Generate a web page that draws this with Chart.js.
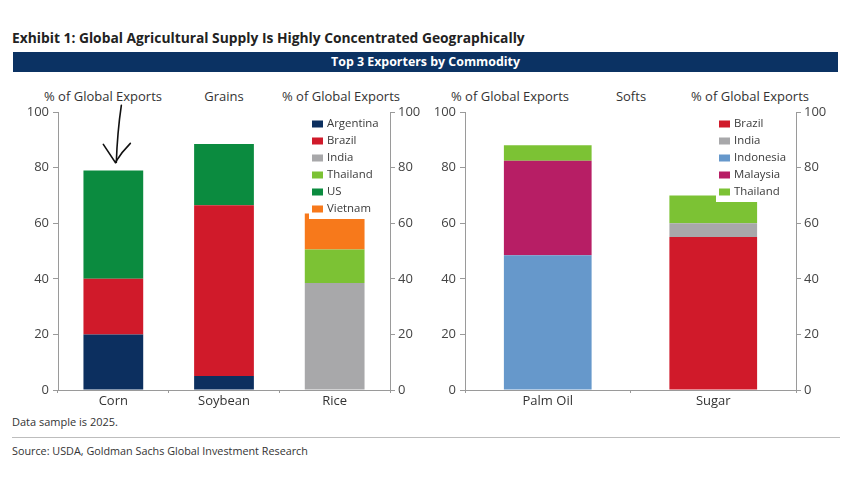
<!DOCTYPE html>
<html>
<head>
<meta charset="utf-8">
<script src="https://cdn.jsdelivr.net/npm/chart.js@4.4.1/dist/chart.umd.min.js"></script>
<style>
  body { margin: 0; background: #fff; font-family: "Open Sans", sans-serif; }
  #page { position: relative; width: 850px; height: 480px; overflow: hidden; background: #fff; }
  .abs { position: absolute; white-space: nowrap; }
  #title { left: 12px; top: 28px; font-size: 13.8px; font-weight: bold; color: #222; }
  #banner { left: 13px; top: 52px; width: 825px; height: 20px; background: #0b3263;
            color: #fff; font-size: 12.4px; font-weight: bold; text-align: center; line-height: 20px; }
  .axt { font-size: 13px; color: #333; top: 87px; transform: translateX(-50%); }
  #note { left: 12px; top: 414px; font-size: 11px; color: #333; }
  #rule { left: 12px; top: 437px; width: 828px; height: 1px; background: #bdbdbd; }
  #source { left: 12px; top: 443px; font-size: 10.8px; color: #333; }
</style>
</head>
<body>
<div id="page">
  <div id="title" class="abs">Exhibit 1: Global Agricultural Supply Is Highly Concentrated Geographically</div>
  <div id="banner" class="abs">Top 3 Exporters by Commodity</div>

  <div class="abs axt" style="left:103px">% of Global Exports</div>
  <div class="abs axt" style="left:224px">Grains</div>
  <div class="abs axt" style="left:341px">% of Global Exports</div>
  <div class="abs axt" style="left:510px">% of Global Exports</div>
  <div class="abs axt" style="left:631px">Softs</div>
  <div class="abs axt" style="left:750px">% of Global Exports</div>

  <div class="abs" style="left:0; top:100px; width:425px; height:312px"><canvas id="grains"></canvas></div>
  <div class="abs" style="left:425px; top:100px; width:425px; height:312px"><canvas id="softs"></canvas></div>

  <div id="note" class="abs">Data sample is 2025.</div>
  <div id="rule" class="abs"></div>
  <div id="source" class="abs">Source: USDA, Goldman Sachs Global Investment Research</div>
</div>

<script>
// ===== Data =====
const grainCategories = ['Corn', 'Soybean', 'Rice'];
const grainArgentina = [20, 5, null];
const grainBrazil = [20, 61.5, null];
const grainIndia = [null, null, 38.5];
const grainThailand = [null, null, 12];
const grainUS = [39, 22, null];
const grainVietnam = [null, null, 13];

const softCategories = ['Palm Oil', 'Sugar'];
const softBrazil = [null, 55];
const softIndia = [null, 5];
const softIndonesia = [48.5, null];
const softMalaysia = [34, null];
const softThailand = [5.5, 10];

const yTicks = [0, 20, 40, 60, 80, 100];

const COLORS = {
    Argentina: '#0c2f5f',
    Brazil: '#d01a2a',
    India: '#a8a8aa',
    Thailand: '#7cc234',
    US: '#0b8b3f',
    Vietnam: '#f7791b',
    Indonesia: '#6698cb',
    Malaysia: '#b71e65'
};

const AXIS_COLOR = '#9a9a9a';
const TEXT_COLOR = '#444';
const FONT = '"Open Sans", sans-serif';

// Leyenda dibujada dentro del área del gráfico, con fondo blanco
const insetLegend = {
    id: 'insetLegend',
    afterDatasetsDraw(chart, args, opts) {
        const ctx = chart.ctx;
        const sets = chart.data.datasets;
        ctx.save();
        ctx.fillStyle = '#fff';
        ctx.fillRect(opts.x - 3, opts.y - 9, opts.w, sets.length * opts.row + 2);
        ctx.font = '11.4px ' + FONT;
        ctx.textBaseline = 'middle';
        sets.forEach((ds, i) => {
            const cy = opts.y + i * opts.row;
            ctx.fillStyle = ds.backgroundColor;
            ctx.fillRect(opts.x, cy - 3.5, 11, 7);
            ctx.fillStyle = '#3a3a3a';
            ctx.fillText(ds.label, opts.x + 15, cy);
        });
        ctx.restore();
    }
};

// Flecha dibujada a mano sobre la barra de maíz
const handArrow = {
    id: 'handArrow',
    afterDraw(chart) {
        if (chart.canvas.id !== 'grains') return;
        const meta = chart.getDatasetMeta(4);
        const bar = meta.data[0];
        if (!bar) return;
        const cx = bar.x;
        const tip = bar.y - 8;
        const ctx = chart.ctx;
        ctx.save();
        ctx.strokeStyle = '#111';
        ctx.lineWidth = 1.6;
        ctx.lineCap = 'round';
        ctx.beginPath();
        ctx.moveTo(cx + 8, tip - 57);
        ctx.quadraticCurveTo(cx + 4, tip - 30, cx + 3, tip);
        ctx.stroke();
        ctx.beginPath();
        ctx.moveTo(cx - 10, tip - 18);
        ctx.quadraticCurveTo(cx - 2, tip - 6, cx + 2, tip);
        ctx.quadraticCurveTo(cx + 8, tip - 10, cx + 17, tip - 19);
        ctx.stroke();
        ctx.restore();
    }
};

function makeDataset(label, data) {
    return {
        label: label,
        data: data,
        backgroundColor: COLORS[label],
        borderWidth: 0,
        stack: 'top3'
    };
}

function yAxis(position, width, padding) {
    return {
        type: 'linear',
        position: position,
        stacked: position === 'left',
        min: 0,
        max: 100,
        afterBuildTicks(scale) {
            scale.ticks = yTicks.map(v => ({ value: v }));
        },
        afterFit(scale) {
            scale.width = width;
        },
        border: { display: true, color: AXIS_COLOR, width: 1 },
        grid: {
            display: true,
            drawOnChartArea: false,
            drawTicks: true,
            tickLength: 5,
            tickColor: AXIS_COLOR
        },
        ticks: {
            padding: padding,
            color: TEXT_COLOR,
            font: { family: FONT, size: 13 }
        }
    };
}

function createChart(canvasId, labels, datasets, opts) {
    const ctx = document.getElementById(canvasId);
    return new Chart(ctx, {
        type: 'bar',
        data: { labels: labels, datasets: datasets },
        options: {
            responsive: true,
            maintainAspectRatio: false,
            animation: false,
            layout: { padding: { top: 12, right: 0, left: 0, bottom: 0 } },
            datasets: { bar: { barPercentage: opts.barPct, categoryPercentage: 1 } },
            plugins: {
                legend: { display: false },
                tooltip: { enabled: false },
                insetLegend: opts.legend
            },
            scales: {
                x: {
                    stacked: true,
                    afterFit(scale) { scale.height = 22; },
                    border: { display: true, color: AXIS_COLOR, width: 1 },
                    grid: {
                        display: true,
                        offset: true,
                        drawOnChartArea: false,
                        drawTicks: true,
                        tickLength: 3,
                        tickColor: AXIS_COLOR
                    },
                    ticks: {
                        padding: 0,
                        color: '#333',
                        font: { family: FONT, size: 13 }
                    }
                },
                y: yAxis('left', opts.leftW, 4),
                y2: yAxis('right', opts.rightW, 3)
            }
        },
        plugins: [insetLegend, handArrow]
    });
}

createChart('grains', grainCategories, [
    makeDataset('Argentina', grainArgentina),
    makeDataset('Brazil', grainBrazil),
    makeDataset('India', grainIndia),
    makeDataset('Thailand', grainThailand),
    makeDataset('US', grainUS),
    makeDataset('Vietnam', grainVietnam)
], { barPct: 0.54, leftW: 58, rightW: 35, legend: { x: 312, y: 24, row: 17, w: 76 } });

createChart('softs', softCategories, [
    makeDataset('Brazil', softBrazil),
    makeDataset('India', softIndia),
    makeDataset('Indonesia', softIndonesia),
    makeDataset('Malaysia', softMalaysia),
    makeDataset('Thailand', softThailand)
], { barPct: 0.53, leftW: 40, rightW: 54, legend: { x: 294, y: 24, row: 17, w: 76 } });
</script>
</body>
</html>
